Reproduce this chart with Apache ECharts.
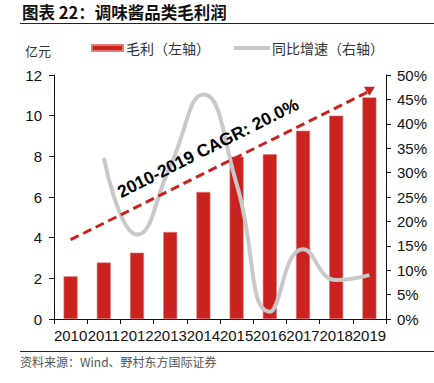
<!DOCTYPE html>
<html>
<head>
<meta charset="utf-8">
<style>
  html, body { margin: 0; padding: 0; background: #fff; }
  #chart { width: 434px; height: 383px; }
</style>
<script src="https://cdn.jsdelivr.net/npm/echarts@6/dist/echarts.min.js"></script>
</head>
<body>
<div id="chart"></div>
<script>
var years = ['2010', '2011', '2012', '2013', '2014', '2015', '2016', '2017', '2018', '2019'];
var grossProfit = [2.1, 2.78, 3.26, 4.28, 6.25, 7.98, 8.1, 9.26, 10.0, 10.9];
var yoyGrowth = [null, 33.0, 17.3, 31.3, 46.0, 27.7, 1.5, 14.3, 8.0, 9.0];
var trendLine = [3.9, null, null, null, null, null, null, null, null, 11.2];
var cagrLabel = '2010-2019 CAGR: 20.0%';

var red = '#c9221f';
var grey = '#c8c8c8';
var ink = '#111';
var fontLatin = '"Liberation Sans", Arial, "Noto Sans CJK SC", sans-serif';
var fontCjk = '"Noto Sans CJK SC", "Liberation Sans", sans-serif';

var chart = echarts.init(document.getElementById('chart'), null, { renderer: 'svg' });

chart.setOption({
  animation: false,
  textStyle: { fontFamily: fontLatin },
  grid: { left: 54, right: 48, top: 75, bottom: 64 },
  legend: [
    {
      left: 86, top: 36,
      data: [{ name: '毛利（左轴）', icon: 'rect' }],
      itemWidth: 31, itemHeight: 6, itemGap: 0,
      textStyle: { fontFamily: fontCjk, fontSize: 14, color: '#333', padding: [0, 0, 0, -2] }
    },
    {
      left: 229, top: 36,
      data: [{ name: '同比增速（右轴）', icon: 'roundRect', itemStyle: { color: grey } }],
      itemWidth: 36, itemHeight: 4, itemGap: 0,
      textStyle: { fontFamily: fontCjk, fontSize: 14, color: '#333', padding: [0, 0, 0, -3] }
    }
  ],
  xAxis: {
    type: 'category',
    data: years,
    axisLine: { lineStyle: { color: ink, width: 1 } },
    axisTick: { show: true, interval: 0, length: 5, lineStyle: { color: ink } },
    axisLabel: { color: ink, fontSize: 15, margin: 9, interval: 0 }
  },
  yAxis: [
    {
      type: 'value', min: 0, max: 12, interval: 2,
      axisLine: { show: true, lineStyle: { color: ink } },
      axisTick: { show: true, length: 5, lineStyle: { color: ink } },
      axisLabel: { color: ink, fontSize: 15, margin: 12 },
      splitLine: { show: false }
    },
    {
      type: 'value', min: 0, max: 50, interval: 5,
      axisLine: { show: true, lineStyle: { color: ink } },
      axisTick: { show: true, length: 5, lineStyle: { color: ink } },
      axisLabel: { color: ink, fontSize: 15, margin: 11, formatter: '{value}%' },
      splitLine: { show: false }
    }
  ],
  series: [
    {
      name: '毛利（左轴）',
      type: 'bar',
      data: grossProfit,
      barWidth: 14,
      itemStyle: { color: red, borderColor: '#e07a78', borderWidth: 0.6 },
      z: 2
    },
    {
      name: '同比增速（右轴）',
      type: 'line',
      yAxisIndex: 1,
      data: yoyGrowth,
      smooth: 0.5,
      showSymbol: false,
      symbol: 'none',
      lineStyle: { color: grey, width: 4 },
      itemStyle: { color: grey },
      z: 3
    },
    {
      name: 'trend',
      type: 'line',
      data: trendLine.map(function(v, i) {
        if (i === trendLine.length - 1) {
          return { value: v, symbol: 'triangle', symbolSize: [11, 9], symbolRotate: 180 };
        }
        return { value: v, symbol: 'none' };
      }),
      connectNulls: true,
      showAllSymbol: true,
      lineStyle: { color: red, width: 3, type: [9, 5] },
      itemStyle: { color: red },
      z: 4
    }
  ],
  graphic: [
    {
      type: 'text', left: 22, top: 4,
      style: { text: '图表 22：调味酱品类毛利润', font: 'bold 16.5px ' + fontCjk, fill: '#111' }
    },
    {
      type: 'line', shape: { x1: 20, y1: 23.5, x2: 434, y2: 23.5 },
      style: { stroke: '#222', lineWidth: 1.2 }
    },
    {
      type: 'text', left: 25, top: 44,
      style: { text: '亿元', font: '13px ' + fontCjk, fill: '#333' }
    },
    {
      type: 'text', x: 208, y: 148, rotation: 26.6 * Math.PI / 180,
      style: {
        text: cagrLabel, font: 'bold 17.5px ' + fontLatin, fill: '#000',
        align: 'center', verticalAlign: 'middle'
      },
      z: 10
    },
    {
      type: 'line', shape: { x1: 20, y1: 351.5, x2: 434, y2: 351.5 },
      style: { stroke: '#222', lineWidth: 1.2 }
    },
    {
      type: 'text', left: 20, top: 355,
      style: { text: '资料来源：Wind、野村东方国际证券', font: '12px ' + fontCjk, fill: '#555' }
    }
  ]
});
window.addEventListener('resize', function() { chart.resize(); });
</script>
</body>
</html>
